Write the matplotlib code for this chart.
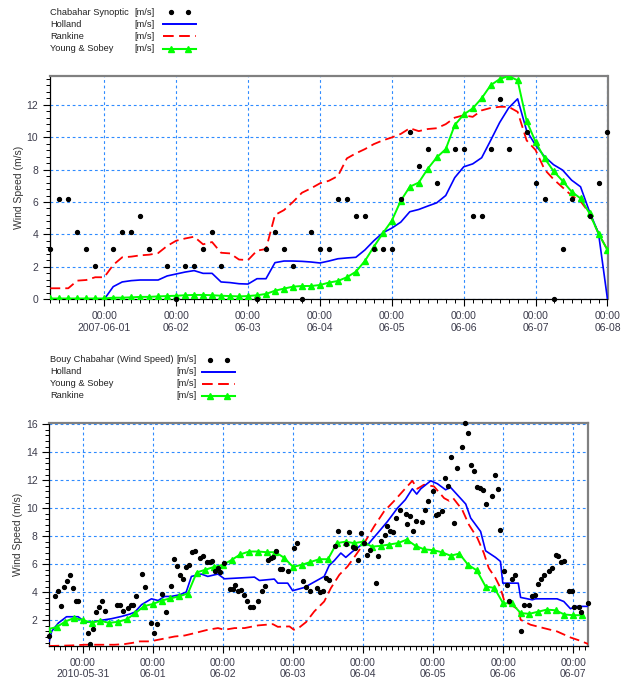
import numpy as np
import matplotlib
matplotlib.use("Agg")
import matplotlib.pyplot as plt
import matplotlib.dates as mdates
from matplotlib.ticker import MultipleLocator, FuncFormatter
from matplotlib.lines import Line2D

plt.rcParams['font.family'] = ['Liberation Sans', 'DejaVu Sans']

W, H = 622, 687

# ---------------- top chart: hours after 2007-06-01 00:00 ----------------
t0_top = np.datetime64('2007-06-01T00:00')

syn_h = [-18, -15, -12, -9, -6, -3, 3, 6, 9, 12, 15, 21, 24, 27, 30, 33, 36, 39,
         51, 54, 57, 60, 63, 66, 69, 72, 75, 78, 81, 84, 87, 90, 93, 96, 99, 102,
         105, 108, 111, 117, 120, 123, 126, 129, 132, 135, 141, 144, 147, 150,
         153, 156, 162, 165, 168]
syn_v = [3.09, 6.17, 6.17, 4.12, 3.09, 2.06, 3.09, 4.12, 4.12, 5.14, 3.09, 2.06,
         0, 2.06, 2.06, 3.09, 4.12, 2.06, 0, 3.09, 4.12, 3.09, 2.06, 0, 4.12,
         3.09, 3.09, 6.17, 6.17, 5.14, 5.14, 3.09, 3.09, 3.09, 6.17, 10.29, 8.23,
         9.26, 7.2, 9.26, 9.26, 5.14, 5.14, 9.26, 12.35, 9.26, 10.29, 7.2, 6.17,
         0, 3.09, 6.17, 5.14, 7.2, 10.29]

hol_top_h = np.arange(0, 169, 3)
hol_top_v = [0, 0.78, 1.07, 1.15, 1.19, 1.19, 1.19, 1.44, 1.56, 1.68, 1.77, 1.6,
             1.6, 1.07, 1.03, 0.96, 0.94, 1.27, 1.27, 2.26, 2.36, 2.36, 2.34, 2.3,
             2.24, 2.36, 2.5, 2.55, 2.59, 3.04, 3.61, 4.1, 4.39, 4.76, 5.4, 5.54,
             5.75, 5.95, 6.4, 7.5, 8.17, 8.35, 8.73, 9.8, 10.9, 11.8, 12.36, 10.4,
             9.5, 8.8, 8.3, 7.97, 7.35, 6.94, 5.4, 4.07, 0]

mod_top_h = np.arange(-18, 169, 3)
ran_top_v = [0.68, 0.68, 0.68, 1.15, 1.19, 1.36, 1.36, 2.12, 2.59, 2.63, 2.71,
             2.75, 2.85, 3.29, 3.61, 3.75, 3.86, 3.39, 3.53, 2.87, 2.83, 2.45,
             2.42, 3.0, 3.1, 5.2, 5.5, 6.0, 6.57, 6.84, 7.15, 7.31, 7.6, 8.69,
             9.0, 9.26, 9.57, 9.8, 9.98, 10.2, 10.55, 10.37, 10.5, 10.55, 10.8,
             11.2, 11.35, 11.25, 11.65, 11.8, 11.87, 11.87, 11.56, 9.8, 9.2, 8.0,
             7.4, 6.9, 6.4, 6.05, 5.3, 4.07, 3.04]
ys_top_v = [0.05, 0.05, 0.05, 0.05, 0.05, 0.05, 0.05, 0.1, 0.1, 0.12, 0.15, 0.15,
            0.18, 0.2, 0.22, 0.25, 0.27, 0.27, 0.25, 0.22, 0.2, 0.18, 0.2, 0.25,
            0.33, 0.53, 0.66, 0.78, 0.82, 0.82, 0.88, 1.03, 1.13, 1.36, 1.7, 2.36,
            3.24, 4.07, 4.85, 6.08, 6.94, 7.2, 8.05, 8.75, 9.26, 10.74, 11.4,
            11.77, 12.4, 13.2, 13.58, 13.77, 13.5, 11.0, 9.7, 8.7, 7.9, 7.3, 6.64,
            6.22, 5.3, 4.05, 3.04]

# ---------------- bottom chart: hours after 2010-05-31 00:00 ----------------
t0_bot = np.datetime64('2010-05-31T00:00')

buoy_h = [-11.6, -9.6, -8.4, -7.5, -6.5, -5.5, -4.4, -3.4, -2.4, -1.5, 1.6, 2.6,
          3.6, 4.5, 5.5, 6.5, 7.5, 11.6, 12.6, 13.6, 15.3, 16.4, 17.3, 18.3,
          20.4, 21.3, 23.2, 24.4, 25.5, 27.2, 28.4, 30.3, 31.4, 32.4, 33.4,
          34.4, 35.4, 36.4, 37.5, 38.4, 40.3, 41.3, 42.5, 43.4, 44.3, 45.3,
          46.2, 47.1, 48.4, 50.3, 51.3, 52.3, 53.3, 54.2, 55.2, 56.3, 57.3,
          58.3, 60.0, 61.3, 62.3, 63.4, 64.3, 65.3, 66.2, 67.4, 68.3, 70.2,
          72.4, 73.4, 75.3, 76.6, 78.0, 80.3, 81.4, 82.3, 83.4, 84.4, 86.3,
          87.3, 90.0, 91.3, 92.4, 93.2, 94.2, 95.3, 96.3, 97.4, 98.4, 100.3,
          101.3, 102.3, 103.4, 104.3, 105.3, 106.2, 107.3, 108.6, 110.7, 111.2,
          112.1, 113.2, 114.2, 116.1, 117.1, 118.1, 120.1, 120.9, 121.8, 122.9,
          124.0, 125.1, 126.0, 127.2, 128.1, 130.0, 131.1, 132.1, 133.1, 134.1,
          135.0, 136.1, 137.1, 138.1, 140.1, 141.1, 142.1, 143.1, 144.2, 145.2,
          146.1, 146.9, 148.0, 150.0, 151.1, 152.9, 154.0, 154.9, 155.9, 156.9,
          157.9, 159.9, 160.9, 162.1, 162.9, 163.9, 165.0, 166.7, 167.6, 168.4,
          169.9, 170.8, 173.0]
buoy_v = [0.9, 3.69, 4.1, 3.02, 4.4, 4.81, 5.21, 4.29, 3.33, 3.4, 1.07, 0.26,
          1.33, 2.6, 2.95, 3.4, 2.62, 3.05, 3.05, 2.64, 2.86, 3.07, 3.07, 3.75,
          5.26, 4.35, 1.76, 1.06, 1.7, 3.83, 2.56, 4.42, 6.37, 5.83, 5.24, 4.93,
          5.76, 5.95, 6.87, 6.95, 6.47, 6.55, 6.14, 6.17, 6.22, 5.52, 5.7, 5.43,
          6.1, 4.21, 4.25, 4.48, 4.05, 4.15, 3.81, 3.38, 2.95, 2.95, 3.4, 4.1,
          4.45, 6.3, 6.45, 6.48, 6.95, 5.65, 5.62, 5.48, 7.14, 7.52, 4.76, 4.36,
          4.05, 4.3, 4.0, 4.05, 5.0, 4.9, 7.3, 8.33, 7.45, 8.29, 7.24, 7.14,
          6.31, 8.19, 7.5, 6.67, 7.02, 4.68, 6.61, 7.65, 8.1, 8.74, 8.33, 8.29,
          9.27, 9.85, 9.57, 8.86, 9.45, 8.38, 9.1, 8.98, 9.83, 10.52, 11.24,
          9.52, 9.6, 9.76, 12.14, 11.55, 13.62, 8.93, 12.9, 14.36, 16.1, 15.36,
          13.1, 12.67, 11.48, 11.43, 11.31, 10.29, 10.88, 12.33, 11.38, 8.45,
          5.52, 4.48, 3.33, 4.95, 5.24, 1.24, 3.1, 3.1, 3.69, 3.81, 4.57, 4.95,
          5.24, 5.52, 5.71, 6.67, 6.57, 6.12, 6.24, 4.05, 4.05, 2.95, 2.95,
          2.57, 3.19]

hol_bot_h = [-11.5, -10.7, -8.4, -5.6, -1.6, 0.7, 3.0, 5.2, 9.8, 13.2, 16.1, 17.8,
             20.1, 23.5, 25.8, 28.0, 30.3, 33.2, 35.4, 37.2, 40.6, 42.8, 46.3,
             48.5, 58.8, 60.5, 65.6, 66.8, 70.2, 71.9, 75.9, 82.7, 84.4, 86.2,
             88.4, 90.1, 92.4, 95.5, 97.6, 101.0, 104.4, 107.8, 110.5, 112.9,
             114.4, 115.8, 119.2, 121.5, 124.3, 126.0, 131.2, 132.9, 136.3,
             138.0, 141.4, 143.1, 143.9, 146.6, 149.2, 150.0, 154.0, 155.1,
             162.5, 164.8, 167.1, 168.8, 173.2]
hol_bot_v = [0.5, 1.19, 1.79, 2.24, 2.24, 1.86, 1.86, 1.95, 2.1, 2.26, 2.43, 2.57,
             3.1, 3.52, 3.4, 3.69, 3.69, 3.81, 4.0, 5.12, 5.29, 5.12, 5.29, 4.95,
             5.07, 4.83, 4.93, 4.64, 4.64, 4.1, 4.33, 5.12, 5.9, 6.26, 6.79, 6.48,
             6.9, 7.38, 7.38, 8.21, 9.05, 10.0, 10.6, 11.38, 11.0, 11.38, 11.95,
             11.74, 11.31, 11.48, 10.29, 9.29, 8.33, 6.95, 6.48, 6.19, 4.64, 4.64,
             4.64, 3.62, 3.45, 3.52, 3.52, 3.33, 2.81, 2.98, 2.98]

ys_bot_h = [-11.5, -3.9, 0.7, 10.9, 14.4, 17.2, 19.5, 22.3, 24.0, 26.9, 31.5, 34.9,
            38.3, 42.8, 46.3, 48.5, 52.0, 55.4, 60.0, 65.1, 66.8, 70.8, 72.3,
            74.2, 76.5, 79.3, 82.7, 85.0, 87.9, 90.7, 93.6, 96.4, 99.8, 103.2,
            106.7, 110.1, 112.9, 114.6, 116.9, 120.3, 123.8, 125.5, 126.9, 130.0,
            132.3, 135.2, 137.4, 139.1, 141.4, 143.1, 144.3, 146.6, 149.4, 150.0,
            153.4, 157.9, 162.5, 167.1, 170.5, 173.2]
ys_bot_v = [0.15, 0.19, 0.24, 0.24, 0.29, 0.38, 0.48, 0.48, 0.52, 0.64, 0.83, 0.9,
            1.07, 1.31, 1.43, 1.31, 1.43, 1.43, 1.62, 1.71, 1.52, 1.55, 1.31,
            1.48, 1.86, 2.62, 3.33, 4.29, 5.24, 5.83, 6.67, 7.5, 8.69, 9.76,
            10.52, 11.31, 11.95, 11.38, 11.67, 11.55, 10.71, 10.52, 10.71, 9.88,
            8.81, 7.86, 6.79, 5.71, 5.0, 4.29, 3.45, 3.1, 2.74, 2.02, 1.67, 1.43,
            1.19, 0.76, 0.52, 0.29]

ran_bot_h = np.arange(-12, 172, 3)
ran_bot_v = [1.35, 1.5, 1.9, 2.15, 2.0, 1.82, 1.95, 1.8, 1.88, 2.05, 2.5, 3.0,
             3.15, 3.4, 3.55, 3.7, 3.9, 5.4, 5.6, 5.8, 5.95, 6.3, 6.7, 6.9, 6.9,
             6.85, 6.85, 6.45, 5.8, 5.95, 6.15, 6.35, 6.35, 7.5, 7.6, 7.5, 7.6,
             7.25, 7.3, 7.4, 7.5, 7.75, 7.3, 7.05, 7.0, 6.85, 6.6, 6.75, 5.95,
             5.55, 4.4, 4.3, 3.2, 3.2, 2.5, 2.45, 2.6, 2.75, 2.7, 2.4, 2.35, 2.35]


def when(t0, hours):
    return t0 + (np.asarray(hours, dtype=float) * 60).round().astype('timedelta64[m]')


RED_DASH = (5.5, 2.8)
GREEN = '#00ff00'
TICK_C = '#3c3c4c'
LEG_FS = 6.7


def style_axes(ax, minor_hours, year_fmt):
    ax.xaxis.set_major_locator(mdates.DayLocator())
    ax.xaxis.set_minor_locator(mdates.HourLocator(byhour=range(0, 24, minor_hours)))

    def fmt(x, pos):
        d = mdates.num2date(x)
        if pos == 0:
            return d.strftime('%H:%M\n' + year_fmt)
        return d.strftime('%H:%M\n%m-%d')
    ax.xaxis.set_major_formatter(FuncFormatter(fmt))
    ax.yaxis.set_major_locator(MultipleLocator(2))
    ax.yaxis.set_minor_locator(MultipleLocator(0.4))
    ax.grid(True, which='major', color='#2e8bff', linestyle=(0, (2.5, 2.5)), linewidth=0.8)
    ax.tick_params(which='major', length=5, width=0.8, labelsize=7.5, labelcolor=TICK_C)
    ax.tick_params(which='minor', length=3, width=0.7)
    for s in ['top', 'right']:
        ax.spines[s].set_color('#808080')
        ax.spines[s].set_linewidth(1.6)
    for s in ['left', 'bottom']:
        ax.spines[s].set_linewidth(0.9)
    ax.set_ylabel('Wind Speed (m/s)', fontsize=7.5, color='#333333', labelpad=2)


def legend_rows(rows, unit_x, sym_x0, sym_x1):
    for y, name, kind, color in rows:
        fy = 1 - y / H
        fig.text(50 / W, fy, name, fontsize=LEG_FS, va='center', ha='left', color='#222222')
        fig.text(unit_x / W, fy, '[m/s]', fontsize=LEG_FS, va='center', ha='left', color='#222222')
        if kind == 'dots':
            fig.add_artist(Line2D([(sym_x0 + 8) / W, (sym_x1 - 8) / W], [fy, fy],
                                  transform=fig.transFigure, ls='none', marker='o',
                                  ms=2.8, color='black'))
        elif kind == 'solid':
            fig.add_artist(Line2D([sym_x0 / W, sym_x1 / W], [fy, fy],
                                  transform=fig.transFigure, color=color, lw=1.4))
        elif kind == 'dash':
            fig.add_artist(Line2D([sym_x0 / W, sym_x1 / W], [fy, fy],
                                  transform=fig.transFigure, color=color, lw=1.4,
                                  dashes=RED_DASH))
        else:
            fig.add_artist(Line2D([sym_x0 / W, sym_x1 / W], [fy, fy],
                                  transform=fig.transFigure, color=color, lw=1.5))
            fig.add_artist(Line2D([(sym_x0 + 8) / W, (sym_x1 - 8) / W], [fy, fy],
                                  transform=fig.transFigure, ls='none', marker='^',
                                  ms=5, color=color))


fig = plt.figure(figsize=(W / 100, H / 100), dpi=100)

# top
ax1 = fig.add_axes([50 / W, 1 - 299.3 / H, 557.5 / W, 223.3 / H])
ax1.plot(when(t0_top, mod_top_h), ran_top_v, color='red', lw=1.3, dashes=RED_DASH, zorder=3)
ax1.plot(when(t0_top, hol_top_h), hol_top_v, color='#0000ff', lw=1.2, zorder=4)
ax1.plot(when(t0_top, mod_top_h), ys_top_v, color=GREEN, lw=1.4, marker='^', ms=5, zorder=5)
ax1.plot(when(t0_top, syn_h), syn_v, ls='none', marker='o', ms=2.8, color='black',
         zorder=6, clip_on=False)
ax1.set_xlim(when(t0_top, -18.1), when(t0_top, 168))
ax1.set_ylim(0, max(ys_top_v))
style_axes(ax1, 3, '%Y-%m-%d')

legend_rows([(12.3, 'Chabahar Synoptic', 'dots', 'black'),
             (24.3, 'Holland', 'solid', '#0000ff'),
             (36.2, 'Rankine', 'dash', 'red'),
             (48.7, 'Young & Sobey', 'tri', GREEN)], 134, 162.7, 195.7)

# bottom
ax2 = fig.add_axes([49.3 / W, 1 - 646 / H, 539 / W, 223.3 / H])
ax2.plot(when(t0_bot, hol_bot_h), hol_bot_v, color='#0000ff', lw=1.2, zorder=4)
ax2.plot(when(t0_bot, ys_bot_h), ys_bot_v, color='red', lw=1.3, dashes=RED_DASH, zorder=3)
ax2.plot(when(t0_bot, ran_bot_h), ran_bot_v, color=GREEN, lw=1.4, marker='^', ms=5, zorder=5)
ax2.plot(when(t0_bot, buoy_h), buoy_v, ls='none', marker='o', ms=2.8, color='black',
         zorder=6, clip_on=False)
ax2.set_xlim(when(t0_bot, -11.5), when(t0_bot, 173.2))
ax2.set_ylim(min(ys_bot_v), max(buoy_v))
style_axes(ax2, 2, '%Y-%m-%d')

legend_rows([(360, 'Bouy Chabahar (Wind Speed)', 'dots', 'black'),
             (371.7, 'Holland', 'solid', '#0000ff'),
             (384, 'Young & Sobey', 'dash', 'red'),
             (395.7, 'Rankine', 'tri', GREEN)], 176.5, 202.3, 235)

fig.savefig('out.png', dpi=100)
